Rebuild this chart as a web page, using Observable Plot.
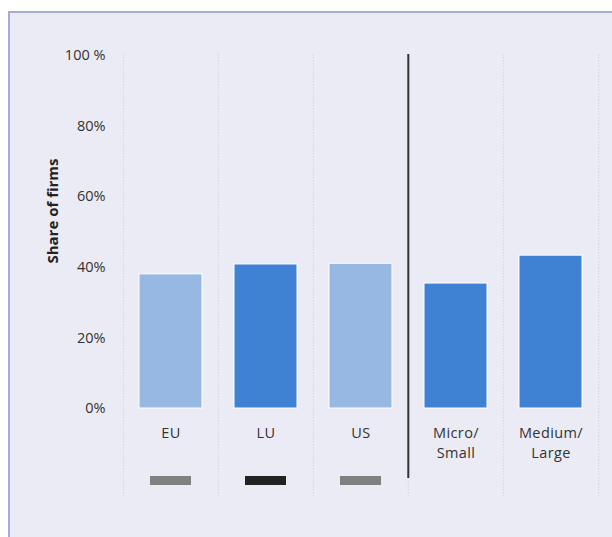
<!DOCTYPE html>
<html>
<head>
<meta charset="utf-8">
<script src="https://cdn.jsdelivr.net/npm/d3@7"></script>
<script src="https://cdn.jsdelivr.net/npm/@observablehq/plot@0.6"></script>
<style>
  html, body { margin: 0; padding: 0; background: #ffffff; }
  #wrap { position: relative; width: 612px; height: 537px; overflow: hidden; background: #ffffff; }
  #panel { position: absolute; left: 8px; top: 11px; width: 620px; height: 540px;
           background: #ebebf5; border-left: 2px solid #aaaad6; border-top: 2px solid #aaaad6; }
  #chart { position: absolute; left: 0; top: 0; }
  .xax text { letter-spacing: 0.4px; }
</style>
</head>
<body>
<div id="wrap"><div id="panel"></div><div id="chart"></div></div>
<script>
const categories = ["EU", "LU", "US", "Micro/\nSmall", "Medium/\nLarge"];
const values = [0.38, 0.408, 0.41, 0.354, 0.433];
const barColors = ["#97b8e2", "#3f82d3", "#97b8e2", "#3f82d3", "#3f82d3"];
const markerColors = ["#808080", "#222222", "#808080", null, null];
const yTicks = [0, 0.2, 0.4, 0.6, 0.8, 1];
const yTickLabels = ["0%", "20%", "40%", "60%", "80%", "100 %"];
const yTitle = "Share of firms";
const dividerBefore = "Micro/\nSmall";

const data = categories.map((c, i) => ({cat: c, value: values[i], color: barColors[i], marker: markerColors[i]}));
const markers = data.filter(d => d.marker);

const W = 612, H = 537, mL = 122, mR = 13, mT = 55, mB = 129;
const step = (W - mL - mR) / categories.length;

const plot = Plot.plot({
  width: W, height: H,
  marginLeft: mL, marginRight: mR, marginTop: mT, marginBottom: mB,
  style: {background: "transparent", fontFamily: "'Open Sans', sans-serif", fontSize: "14px", color: "#333"},
  x: {domain: categories, paddingInner: 0.34, paddingOuter: 0.17, label: null},
  y: {domain: [0, 1], label: null},
  marks: [
    Plot.ruleX(categories, {x: d => d, dx: -step / 2, stroke: "#d4d4e0", strokeDasharray: "1.5,1.5", strokeWidth: 1, insetBottom: -88, insetTop: -1}),
    Plot.ruleX([categories[categories.length - 1]], {x: d => d, dx: step / 2, stroke: "#d4d4e0", strokeDasharray: "1.5,1.5", strokeWidth: 1, insetBottom: -88, insetTop: -1}),
    Plot.barY(data, {x: "cat", y: "value", fill: "color", stroke: "#ffffff", strokeWidth: 1}),
    Plot.ruleX([dividerBefore], {x: d => d, dx: -step / 2, stroke: "#333333", strokeWidth: 2, insetBottom: -70, insetTop: -1}),
    Plot.tickY(markers, {x: "cat", y: () => 0, dy: 72, stroke: "marker", strokeWidth: 9, inset: 11}),
    Plot.axisY({ticks: yTicks, tickFormat: d => yTickLabels[yTicks.indexOf(d)], tickSize: 0, tickPadding: 17, fill: "#333", fontSize: 14.5, label: null}),
    Plot.text([yTitle], {text: d => d, frameAnchor: "left", textAnchor: "middle", rotate: -90, dx: -69, dy: -21, fontWeight: "bold", fontSize: 15, fill: "#222"}),
    Plot.axisX({tickSize: 0, tickPadding: 15, fill: "#333", fontSize: 14.5, label: null, lineHeight: 1.4, className: "xax"})
  ]
});
document.getElementById("chart").appendChild(plot);
</script>
</body>
</html>
